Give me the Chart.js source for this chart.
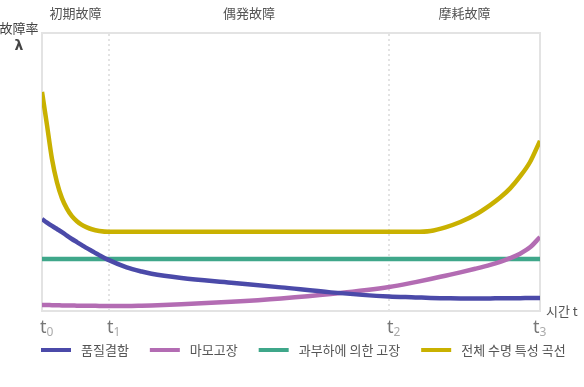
<!DOCTYPE html>
<html>
<head>
<meta charset="utf-8">
<script src="https://cdn.jsdelivr.net/npm/chart.js@4.4.0/dist/chart.umd.min.js"></script>
<style>
  html, body { margin: 0; padding: 0; background: #fff; }
  #wrap { width: 584px; height: 387px; }
</style>
</head>
<body>
<div id="wrap"><canvas id="lifeChart"></canvas></div>
<script>
// time axis runs 0..100, t1 / t2 are the phase boundaries
var timePoints = [0, 1, 2, 3, 4, 5, 6, 7, 8, 9, 10, 11.5, 13.45, 17, 20, 22, 28, 38, 48, 58, 69.7, 75, 78, 81, 84, 87, 90, 92, 94, 96, 98, 100];
var qualityDefect = [33.1, 31.8, 30.6, 29.5, 28.4, 27.1, 25.9, 24.8, 23.7, 22.6, 21.6, 20.1, 18.3, 15.7, 14.2, 13.4, 11.9, 10.2, 8.5, 6.7, 5.2, 4.9, 4.7, 4.6, 4.5, 4.5, 4.5, 4.6, 4.6, 4.6, 4.7, 4.7];
var wearOut = [2.2, 2.2, 2.1, 2.1, 2.0, 2.0, 2.0, 1.9, 1.9, 1.9, 1.9, 1.8, 1.8, 1.8, 1.9, 2.0, 2.4, 3.3, 4.5, 6.1, 8.6, 10.4, 11.5, 12.7, 13.9, 15.2, 16.6, 17.7, 19.0, 20.6, 22.9, 26.6];
var overload = [18.7, 18.7, 18.7, 18.7, 18.7, 18.7, 18.7, 18.7, 18.7, 18.7, 18.7, 18.7, 18.7, 18.7, 18.7, 18.7, 18.7, 18.7, 18.7, 18.7, 18.7, 18.7, 18.7, 18.7, 18.7, 18.7, 18.7, 18.7, 18.7, 18.7, 18.7, 18.7];
var totalCurve = [78.8, 66.9, 54.7, 46.3, 40.6, 36.8, 34.1, 32.3, 31.0, 30.1, 29.4, 28.8, 28.5, 28.5, 28.5, 28.5, 28.5, 28.5, 28.5, 28.5, 28.5, 28.5, 28.8, 30.1, 32.0, 34.6, 38.1, 40.8, 44.1, 48.4, 53.6, 61.2];

var seriesNames = ['품질결함', '마모고장', '과부하에 의한 고장', '전체 수명 특성 곡선'];
var seriesColors = ['#4b4aa9', '#b36cb3', '#3fa78a', '#c9b100'];

var phaseBounds = [0, 13.45, 69.7, 100];
var phaseNames = ['初期故障', '偶発故障', '摩耗故障'];
var tickSubs = ['0', '1', '2', '3'];
var yTitle = ['故障率', 'λ'];
var xTitle = '시간 t';

function toXY(ys) {
    return timePoints.map(function(t, i) { return { x: t, y: ys[i] }; });
}

var seriesData = [qualityDefect, wearOut, overload, totalCurve];
var datasets = seriesData.map(function(ys, i) {
    return {
        label: seriesNames[i],
        data: toXY(ys),
        borderColor: seriesColors[i],
        backgroundColor: seriesColors[i],
        borderWidth: 4.5,
        pointRadius: 0,
        cubicInterpolationMode: 'monotone',
        fill: false
    };
});

var framePlugin = {
    id: 'frame',
    beforeDatasetsDraw: function(chart) {
        var ctx = chart.ctx, a = chart.chartArea, x = chart.scales.x;
        ctx.save();
        ctx.strokeStyle = '#e3e3e3';
        ctx.lineWidth = 2;
        ctx.strokeRect(a.left, a.top, a.right - a.left, a.bottom - a.top);
        ctx.setLineDash([2, 3]);
        [phaseBounds[1], phaseBounds[2]].forEach(function(v) {
            var px = Math.round(x.getPixelForValue(v));
            ctx.beginPath();
            ctx.moveTo(px, a.top + 1);
            ctx.lineTo(px, a.bottom - 1);
            ctx.stroke();
        });
        ctx.restore();
    },
    afterDraw: function(chart) {
        var ctx = chart.ctx, x = chart.scales.x;
        ctx.save();
        ctx.textBaseline = 'middle';

        // phase names on top
        ctx.font = '13px "Noto Sans CJK JP"';
        ctx.fillStyle = '#555';
        ctx.textAlign = 'center';
        phaseNames.forEach(function(name, i) {
            var mid = (x.getPixelForValue(phaseBounds[i]) + x.getPixelForValue(phaseBounds[i + 1])) / 2;
            ctx.fillText(name, mid, 13);
        });

        // y axis title
        ctx.fillStyle = '#444';
        ctx.fillText(yTitle[0], 19, 28);
        ctx.font = 'bold 14px "DejaVu Sans"';
        ctx.fillText(yTitle[1], 19, 46);

        // x axis title
        ctx.font = '13px "Noto Sans CJK KR"';
        ctx.fillStyle = '#555';
        ctx.textAlign = 'left';
        ctx.fillText(xTitle, 546, 311);

        // t0..t3 tick labels
        ctx.textBaseline = 'alphabetic';
        phaseBounds.forEach(function(v, i) {
            var px = x.getPixelForValue(v);
            var left = i < phaseBounds.length - 1 ? px - 2 : px - 7;
            ctx.font = '18px "Noto Sans"';
            ctx.fillStyle = '#777';
            ctx.fillText('t', left, 333);
            var w = ctx.measureText('t').width;
            ctx.font = '12px "Noto Sans"';
            ctx.fillStyle = '#aaa';
            ctx.fillText(tickSubs[i], left + w, 336);
        });

        // legend
        ctx.font = '13px "Noto Sans CJK KR"';
        ctx.textBaseline = 'middle';
        var lx = 41, ly = 350;
        chart.data.datasets.forEach(function(ds) {
            ctx.fillStyle = ds.borderColor;
            ctx.fillRect(lx, ly - 2, 30, 4);
            lx += 40;
            ctx.fillStyle = '#555';
            ctx.fillText(ds.label, lx, ly);
            lx += ctx.measureText(ds.label).width + 21;
        });
        ctx.restore();
    }
};

var lifeCTX = document.getElementById('lifeChart').getContext('2d');
var lifeChart = new Chart(lifeCTX, {
    type: 'line',
    data: { datasets: datasets },
    options: {
        responsive: true,
        maintainAspectRatio: false,
        animation: false,
        layout: {
            padding: { left: 42, top: 33, right: 44, bottom: 76 }
        },
        plugins: {
            legend: { display: false },
            tooltip: { enabled: false }
        },
        scales: {
            x: { type: 'linear', min: 0, max: 100, display: false },
            y: { min: 0, max: 100, display: false }
        }
    },
    plugins: [framePlugin]
});
</script>
</body>
</html>
